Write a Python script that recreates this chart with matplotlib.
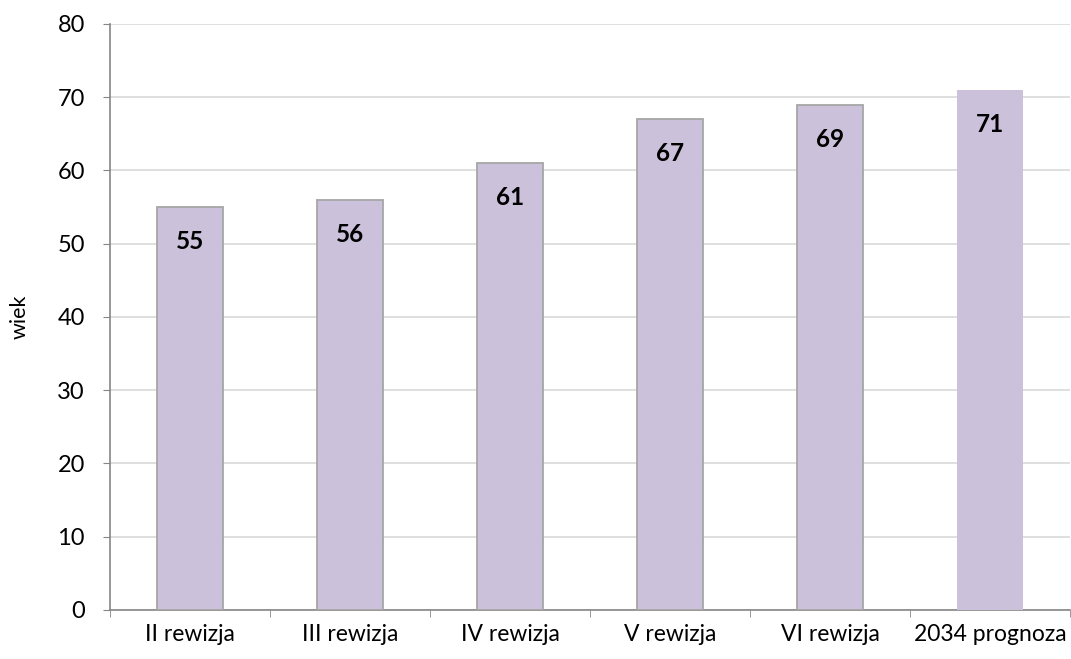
import matplotlib.pyplot as plt
import numpy as np

plt.rcParams['font.family'] = ['Lato', 'DejaVu Sans']

kategorie = ["II rewizja", "III rewizja", "IV rewizja", "V rewizja", "VI rewizja", "2034 prognoza"]
wiek = [55, 56, 61, 67, 69, 71]
# ostatni słupek (prognoza) bez obramowania
obramowanie = ["#a6a6a6"] * 5 + ["none"]

fig = plt.figure(figsize=(10.71, 6.59), dpi=100)
ax = fig.add_axes([0.1027, 0.0744, 0.8963, 0.8892])

x = np.arange(len(kategorie))
bars = ax.bar(x, wiek, width=0.41, color="#ccc1da", edgecolor=obramowanie, linewidth=1.3, zorder=3)

for b, v in zip(bars, wiek):
    ax.annotate(str(v), (b.get_x() + b.get_width() / 2, v), xytext=(0, -25),
                textcoords="offset points", ha="center", va="center",
                fontsize=17.5, fontweight="bold", color="black", zorder=4)

ax.set_xlim(-0.5, len(kategorie) - 0.5)
ax.set_ylim(0, 80)
ax.set_yticks(range(0, 81, 10))
ax.set_xticks(x)
ax.set_xticklabels(kategorie, fontsize=16.5)
ax.tick_params(axis="y", labelsize=17, length=5, color="#868686", pad=13)
ax.tick_params(axis="x", length=0, pad=10)
# znaczniki między kategoriami
ax.set_xticks(np.arange(-0.5, len(kategorie)), minor=True)
ax.tick_params(axis="x", which="minor", length=5, color="#868686")

ax.grid(axis="y", color="#d9d9d9", linewidth=1.2, zorder=0)
for s in ["top", "right"]:
    ax.spines[s].set_visible(False)
for s in ["left", "bottom"]:
    ax.spines[s].set_color("#868686")
    ax.spines[s].set_linewidth(1.2)

ax.set_ylabel("wiek", fontsize=15.5, labelpad=20)

fig.savefig("out.png", dpi=100)
